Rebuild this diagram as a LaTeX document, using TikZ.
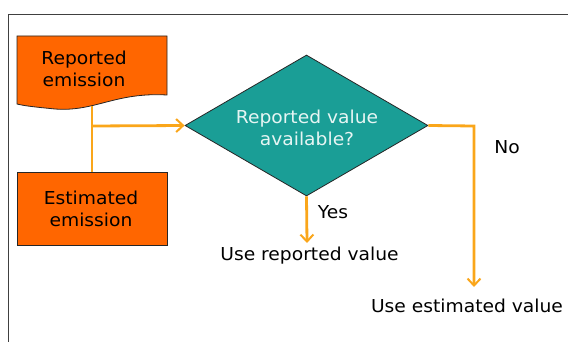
\documentclass[tikz,border=0pt]{standalone}
\usepackage{fontspec}
\setmainfont[FakeStretch=1.05]{DejaVu Sans}
\usetikzlibrary{shapes.geometric,arrows.meta}
\definecolor{boxorange}{RGB}{255,102,0}
\definecolor{lineorange}{RGB}{250,166,26}
\definecolor{teal}{RGB}{26,158,150}
\definecolor{lighttext}{RGB}{230,245,243}
\tikzset{
  box/.style={draw=black!85, fill=boxorange, line width=0.8pt, minimum width=150pt, minimum height=73pt, inner sep=0pt},
  txt/.style={font=\fontsize{17.8}{22}\selectfont, align=center, inner sep=0pt},
  conn/.style={draw=lineorange, line width=2.8pt},
  arr/.style={conn, -{Straight Barb[length=7pt,width=13pt,line width=2pt]}},
  decision/.style={diamond, draw=black!85, fill=teal, line width=0.8pt, minimum width=243pt, minimum height=141pt, aspect=1.72, inner sep=0pt, text=lighttext},
}
\begin{document}
\begin{tikzpicture}[x=1pt,y=-1pt]
\useasboundingbox (0,0) rectangle (568,342);
% frame
\draw[black!75, line width=0.8pt] (568,14) -- (8,14) -- (8,342);
% document shape (Reported emission)
\coordinate (docb) at (92,106);
\draw[box] (17,36) -- (167,36) -- (167,95)
  .. controls (115,92) and (95,112) .. (55,109)
  .. controls (35,107) and (25,106) .. (17,104) -- cycle;
\node[txt] (rep) at (84,69) {Reported\\emission};
% Estimated emission
\node[box] (est) at (92,208.5) {};
\node[txt] at (91,209) {Estimated\\emission};
% decision
\node[decision] (dec) at (306.5,125.5) {};
\node[txt, text=lighttext] (dectext) at (307,128) {Reported value\\available?};
% outputs
\node[txt, anchor=center] (usrep) at (309.5,256) {Use reported value};
\node[txt, anchor=center] (usest) at (467,306) {Use estimated value};
\node[txt] (yes) at (333,212) {Yes};
\node[txt] (no) at (507,147) {No};
% connectors
\coordinate (j) at (92,126);
\coordinate (nc) at (474,126);
\coordinate (yt) at (307,243);
\coordinate (nt) at (474,287);
\draw[conn] (docb) -- (est.north);
\draw[arr] (j) -- (dec.west);
\draw[arr] (dec.south) -- (yt);
\draw[arr] (dec.east) -- (nc) -- (nt);
\end{tikzpicture}
\end{document}
